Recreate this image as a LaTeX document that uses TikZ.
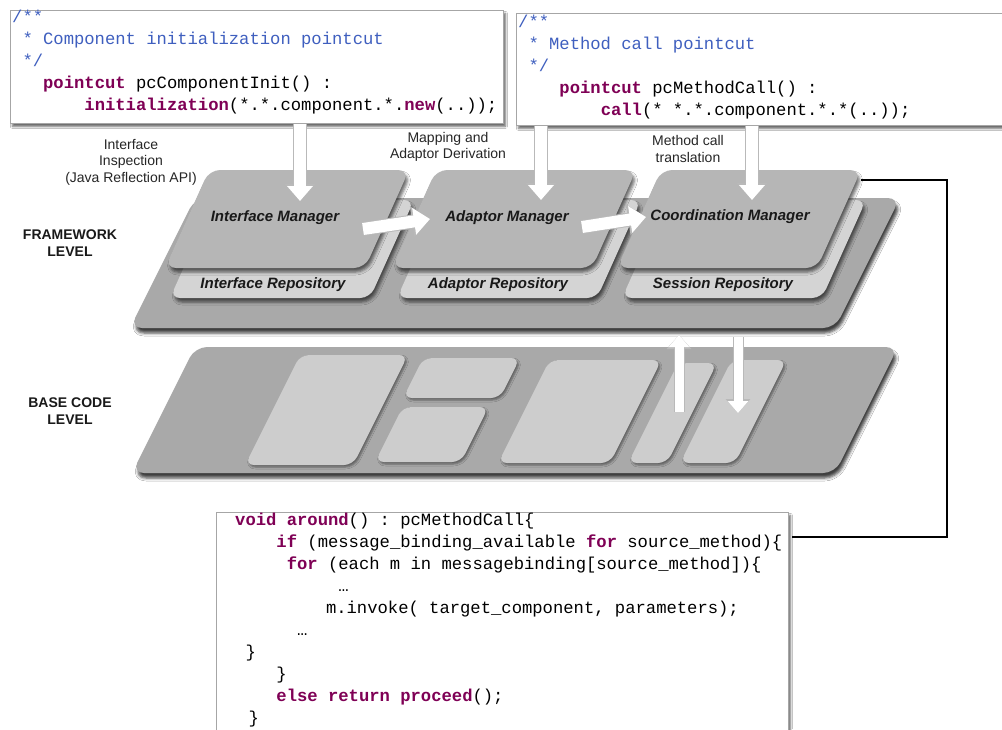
\documentclass[tikz,border=0pt]{standalone}
\usepackage{fontspec}
\setmainfont{Liberation Sans}
\setmonofont{Liberation Mono}
\usetikzlibrary{calc,arrows.meta,shadows.blur}

\definecolor{kwcolor}{HTML}{7F0055}
\definecolor{doccolor}{HTML}{3F5FBF}
\definecolor{platgray}{HTML}{A9A9A9}
\definecolor{mgrgray}{HTML}{B6B6B6}
\definecolor{repogray}{HTML}{D4D4D4}
\definecolor{blockgray}{HTML}{CDCDCD}

\newcommand{\kw}[1]{\textbf{\color{kwcolor}#1}}
\newcommand{\doc}[1]{{\color{doccolor}#1}}
\newcommand{\ind}[1]{\hspace*{#1\dimexpr0.6em\relax}}
\newcommand{\codefont}{\ttfamily\fontsize{17.2}{22}\selectfont}
% slanted slab: bottom left corner, width, height, slant
\def\slab[#1](#2,#3)(#4,#5,#6){\draw[#1] (#2,#3) -- ++(#4,0) -- ++({#6*#5},-#5) -- ++(-#4,0) -- cycle;}

\tikzset{
  platform/.style={fill=platgray, draw=none, rounded corners=12pt,
    blur shadow={shadow xshift=2pt, shadow yshift=-5pt, shadow blur radius=3pt, shadow opacity=75}},
  manager/.style={fill=mgrgray, draw=none, rounded corners=11pt,
    blur shadow={shadow xshift=2pt, shadow yshift=-4pt, shadow blur radius=3pt, shadow opacity=60}},
  repository/.style={fill=repogray, draw=none, rounded corners=10pt,
    blur shadow={shadow xshift=2pt, shadow yshift=-4pt, shadow blur radius=3pt, shadow opacity=60}},
  baseblock/.style={fill=blockgray, draw=none, rounded corners=9pt,
    blur shadow={shadow xshift=1.5pt, shadow yshift=-2pt, shadow blur radius=2pt, shadow opacity=45}},
  cardtext/.style={font=\fontsize{15}{18}\selectfont\bfseries\itshape, text=black!90},
  levellabel/.style={font=\fontsize{14}{17}\selectfont\bfseries, align=center, text=black!90},
  steplabel/.style={font=\fontsize{14}{16.5}\selectfont, align=center, text=black!85},
  codeframe/.style={draw=gray!70, fill=white, line width=0.8pt, anchor=north west, inner sep=0pt,
    blur shadow={shadow xshift=2pt, shadow yshift=-3pt, shadow blur radius=2pt, shadow opacity=60}},
  codetext/.style={font=\codefont, anchor=north west, inner sep=0pt,
    align=left, text width=570pt,
    execute at begin node={\spaceskip=0.6em plus 0pt minus 0pt\relax\xspaceskip=\spaceskip}},
  bigarrow/.style={white, line width=12pt, -{Triangle[width=25pt,length=15pt]},
    preaction={draw=gray!55, line width=14pt, -{Triangle[width=29pt,length=17pt]}}},
  sidearrow/.style={white, line width=12pt, -{Triangle[width=26pt,length=16pt]},
    preaction={draw=gray!55, line width=14pt, -{Triangle[width=30pt,length=18pt]}}},
  smallarrow/.style={white, line width=9pt, -{Triangle[width=20pt,length=12pt]},
    preaction={draw=gray!55, line width=11pt, -{Triangle[width=24pt,length=14pt]}}},
  link/.style={draw=black, line width=1.1pt}
}

\begin{document}
\begin{tikzpicture}[x=1pt,y=-1pt]
  %%%%% START %%%%%
  \fill[white] (0,0) rectangle (1002,729);
  \useasboundingbox (0,0) rectangle (1002,729);

  % code boxes
  \node[codeframe, minimum width=493pt, minimum height=113pt] (initbox) at (10,10) {};
  \node[codetext] (inittext) at (12,6) {\rule{0pt}{16pt}\doc{/**}\\
    \ind{1}\doc{* Component initialization pointcut}\\
    \ind{1}\doc{*/}\\
    \ind{3}\kw{pointcut} pcComponentInit() :\\
    \ind{7}\kw{initialization}(*.*.component.*.\kw{new}(..));};

  \node[codeframe, minimum width=500pt, minimum height=112pt] (callbox) at (516,13) {};
  \node[codetext] (calltext) at (518,11.5) {\rule{0pt}{16pt}\doc{/**}\\
    \ind{1}\doc{* Method call pointcut}\\
    \ind{1}\doc{*/}\\
    \ind{4}\kw{pointcut} pcMethodCall() :\\
    \ind{8}\kw{call}(* *.*.component.*.*(..));};

  \node[codeframe, minimum width=572pt, minimum height=240pt] (advicebox) at (216,512) {};
  \node[codetext] (advicetext) at (235,509) {\rule{0pt}{16pt}\kw{void} \kw{around}() : pcMethodCall\{\\
    \ind{4}\kw{if} (message\_binding\_available \kw{for} source\_method)\{\\
    \ind{5}\kw{for} (each m in messagebinding[source\_method])\{\\
    \ind{10}…\\
    \ind{8.8}m.invoke( target\_component, parameters);\\
    \ind{6}…\\
    \ind{1}\}\\
    \ind{4}\}\\
    \ind{4}\kw{else} \kw{return} \kw{proceed}();\\
    \ind{1.3}\}};

  % base code level
  \slab[platform](132,473)(703,126,0.5)
  \slab[baseblock](245,465)(108,110,0.5)
  \slab[baseblock](403,398)(97,40,0.5)
  \slab[baseblock](375,462)(86,55,0.5)
  \slab[baseblock](498,463)(112,103,0.5)
  \slab[baseblock](628,463)(39,100,0.5)
  \slab[baseblock](680,463)(55,103,0.5)

  % framework level
  \slab[platform](130,328)(705,130,0.5)

  \slab[repository](170,298)(200,98,0.45)
  \slab[repository](397,298)(200,98,0.45)
  \slab[repository](622,298)(200,98,0.45)
  \node[cardtext] (irepo) at (273,285) {Interface Repository};
  \node[cardtext] (arepo) at (498,285) {Adaptor Repository};
  \node[cardtext] (srepo) at (723,285) {Session Repository};

  \slab[manager](165,268)(200,98,0.45)
  \slab[manager](392,268)(200,98,0.45)
  \slab[manager](617,268)(200,98,0.45)
  \node[cardtext] (imgr) at (275,218) {Interface Manager};
  \node[cardtext] (amgr) at (507,218) {Adaptor Manager};
  \node[cardtext] (cmgr) at (730,217) {Coordination Manager};

  % arrows
  \coordinate (imgr-in) at (300,201);
  \coordinate (amgr-in) at (541,200);
  \coordinate (cmgr-in) at (752,200);
  \draw[bigarrow] (initbox.south -| imgr-in) -- (imgr-in);
  \draw[bigarrow] (callbox.south -| amgr-in) -- (amgr-in);
  \draw[bigarrow] (callbox.south -| cmgr-in) -- (cmgr-in);

  \coordinate (imgr-out) at (363,229);
  \coordinate (amgr-left) at (430,219);
  \coordinate (amgr-out) at (582,227);
  \coordinate (cmgr-left) at (646,217);
  \draw[sidearrow] (imgr-out) -- (amgr-left);
  \draw[sidearrow] (amgr-out) -- (cmgr-left);

  \coordinate (base-out) at (679,412);
  \coordinate (frame-in) at (679,335);
  \coordinate (frame-out) at (738,337);
  \coordinate (base-in) at (738,413);
  \draw[smallarrow] (base-out) -- (frame-in);
  \draw[smallarrow] (frame-out) -- (base-in);

  % labels
  \node[steplabel] (inspect) at (131,162) {Interface\\Inspection\\(Java Reflection API)};
  \node[steplabel] (mapping) at (448,147) {Mapping and\\Adaptor Derivation};
  \node[steplabel] (translate) at (688,149) {Method call\\translation};
  \node[levellabel] (fwlevel) at (70,243) {FRAMEWORK\\LEVEL};
  \node[levellabel] (baselevel) at (70,411) {BASE CODE\\LEVEL};

  % link to the advice
  \coordinate (cmgr-ne) at (861,180);
  \coordinate (advice-in) at ($(advicebox.north east)+(3,25)$);
  \draw[link] (cmgr-ne) -- ++(86,0) |- (advice-in);

  %%%%% END %%%%%
\end{tikzpicture}
\end{document}
